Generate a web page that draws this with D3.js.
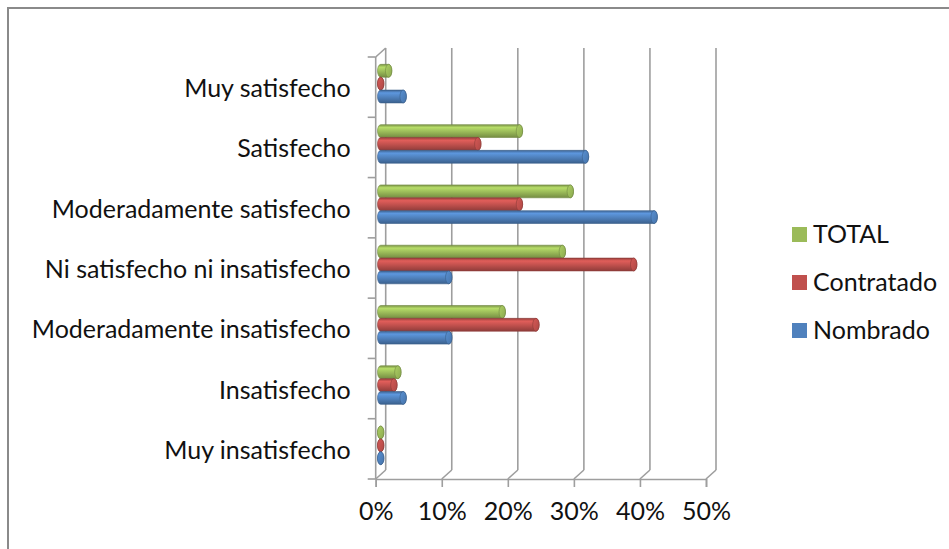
<!DOCTYPE html>
<html>
<head>
<meta charset="utf-8">
<script src="https://cdn.jsdelivr.net/npm/d3@7"></script>
<style>
  html, body { margin: 0; padding: 0; background: #fff; }
  svg { display: block; }
  text { font-family: Lato, "Open Sans", sans-serif; fill: #111; }
</style>
</head>
<body>
<svg id="chart" width="949" height="549"></svg>
<script>
// Satisfaction levels, listed from top to bottom
const categories = [
  "Muy satisfecho",
  "Satisfecho",
  "Moderadamente satisfecho",
  "Ni satisfecho ni insatisfecho",
  "Moderadamente insatisfecho",
  "Insatisfecho",
  "Muy insatisfecho"
];
const seriesNames = ["TOTAL", "Contratado", "Nombrado"];
// Percentages per level
const total      = [1.2, 21.0, 28.7, 27.5, 18.4, 2.6, 0];
const contratado = [0, 14.7, 21.0, 38.3, 23.5, 2.0, 0];
const nombrado   = [3.4, 31.0, 41.4, 10.3, 10.3, 3.4, 0];
const xTicks = [0, 10, 20, 30, 40, 50];
const colors = ["#9BBB59", "#C0504D", "#4F81BD"];

const seriesValues = [total, contratado, nombrado];

const svg = d3.select("#chart");
const W = 949, H = 549;
const fontSize = "25px";

// outer frame
svg.append("rect")
  .attr("x", 8).attr("y", 8).attr("width", W).attr("height", H)
  .attr("fill", "#fff").attr("stroke", "#8a8a8a").attr("stroke-width", 2);

// front plane scales; the back wall is offset by a depth vector
const x = d3.scaleLinear().domain([0, 50]).range([375.7, 706]);
const y = d3.scaleBand().domain(categories).range([57, 479]);
const depth = { dx: 10, dy: -9 };
const floorY = y.range()[1];
const topY = y.range()[0];
const gridColor = "#9e9e9e";

const grid = svg.append("g").attr("stroke", gridColor).attr("stroke-width", 1.6).attr("fill", "none");

// back wall gridlines and floor diagonals
xTicks.forEach(t => {
  const fx = x(t);
  grid.append("line")
    .attr("x1", fx + depth.dx).attr("y1", floorY + depth.dy)
    .attr("x2", fx + depth.dx).attr("y2", topY + depth.dy);
  grid.append("line")
    .attr("x1", fx).attr("y1", floorY)
    .attr("x2", fx + depth.dx).attr("y2", floorY + depth.dy);
});

// left side wall
grid.append("line")
  .attr("x1", x(0)).attr("y1", topY).attr("x2", x(0)).attr("y2", floorY);
grid.append("line")
  .attr("x1", x(0)).attr("y1", topY).attr("x2", x(0) + depth.dx).attr("y2", topY + depth.dy);

// category boundary ticks
const step = y.step();
d3.range(categories.length + 1).forEach(i => {
  const yy = topY + i * step;
  grid.append("line")
    .attr("x1", x(0) - 8).attr("y1", yy).attr("x2", x(0)).attr("y2", yy);
});

// bottom value axis
const xAxis = d3.axisBottom(x)
  .tickValues(xTicks)
  .tickFormat(d => d + "%")
  .tickSize(8)
  .tickPadding(15);
const gx = svg.append("g")
  .attr("transform", `translate(0,${floorY})`)
  .call(xAxis);
gx.select(".domain").attr("stroke", gridColor).attr("stroke-width", 1.6);
gx.selectAll(".tick line").attr("stroke", gridColor).attr("stroke-width", 1.6);
gx.selectAll("text").style("font-size", fontSize).attr("fill", "#111")
  .style("font-family", "Lato, 'Open Sans', sans-serif");

// category labels
const yAxis = d3.axisLeft(y).tickSize(0).tickPadding(25);
const gy = svg.append("g")
  .attr("transform", `translate(${x(0)},2)`)
  .call(yAxis);
gy.select(".domain").remove();
gy.selectAll("text").style("font-size", fontSize).attr("fill", "#111")
  .style("font-family", "Lato, 'Open Sans', sans-serif");

// cylinder gradients
const defs = svg.append("defs");
colors.forEach((c, i) => {
  const base = d3.color(c);
  const g = defs.append("linearGradient")
    .attr("id", "body" + i).attr("x1", 0).attr("y1", 0).attr("x2", 0).attr("y2", 1);
  g.append("stop").attr("offset", "0%").attr("stop-color", base.darker(0.7));
  g.append("stop").attr("offset", "22%").attr("stop-color", base.brighter(0.45));
  g.append("stop").attr("offset", "55%").attr("stop-color", base);
  g.append("stop").attr("offset", "100%").attr("stop-color", base.darker(0.8));
  const cg = defs.append("linearGradient")
    .attr("id", "cap" + i).attr("x1", 0).attr("y1", 0).attr("x2", 1).attr("y2", 1);
  cg.append("stop").attr("offset", "0%").attr("stop-color", base.brighter(0.3));
  cg.append("stop").attr("offset", "100%").attr("stop-color", base.darker(0.3));
});

// bars sit at mid depth
const inner = d3.scaleBand().domain(seriesNames).range([0, step * 0.64]).padding(0);
const barH = inner.bandwidth();
const rx = 3.2;
const bars = svg.append("g");
categories.forEach((cat, ci) => {
  const y0 = y(cat) + depth.dy / 2 + (step - step * 0.64) / 2 + 1;
  seriesNames.forEach((s, si) => {
    const v = seriesValues[si][ci];
    const xs = x(0) + depth.dx / 2;
    const xe = x(v) + depth.dx / 2;
    const top = y0 + inner(s);
    const bot = top + barH;
    const ry = barH / 2;
    const base = d3.color(colors[si]);
    bars.append("path")
      .attr("d", `M${xs},${top} L${xe},${top} A${rx},${ry} 0 0 1 ${xe},${bot} L${xs},${bot} A${rx},${ry} 0 0 1 ${xs},${top} Z`)
      .attr("fill", `url(#body${si})`)
      .attr("stroke", base.darker(0.9)).attr("stroke-width", 0.6);
    bars.append("ellipse")
      .attr("cx", xe).attr("cy", top + ry).attr("rx", rx).attr("ry", ry)
      .attr("fill", `url(#cap${si})`)
      .attr("stroke", base.darker(0.9)).attr("stroke-width", 0.6);
  });
});

// legend
const legend = svg.append("g").attr("transform", "translate(792,227)");
seriesNames.forEach((s, i) => {
  const g = legend.append("g").attr("transform", `translate(0,${i * 48})`);
  g.append("rect").attr("width", 15).attr("height", 15).attr("fill", colors[i]);
  g.append("text").attr("x", 21).attr("y", 7.5).attr("dy", "0.35em")
    .style("font-size", fontSize).text(s);
});
</script>
</body>
</html>
